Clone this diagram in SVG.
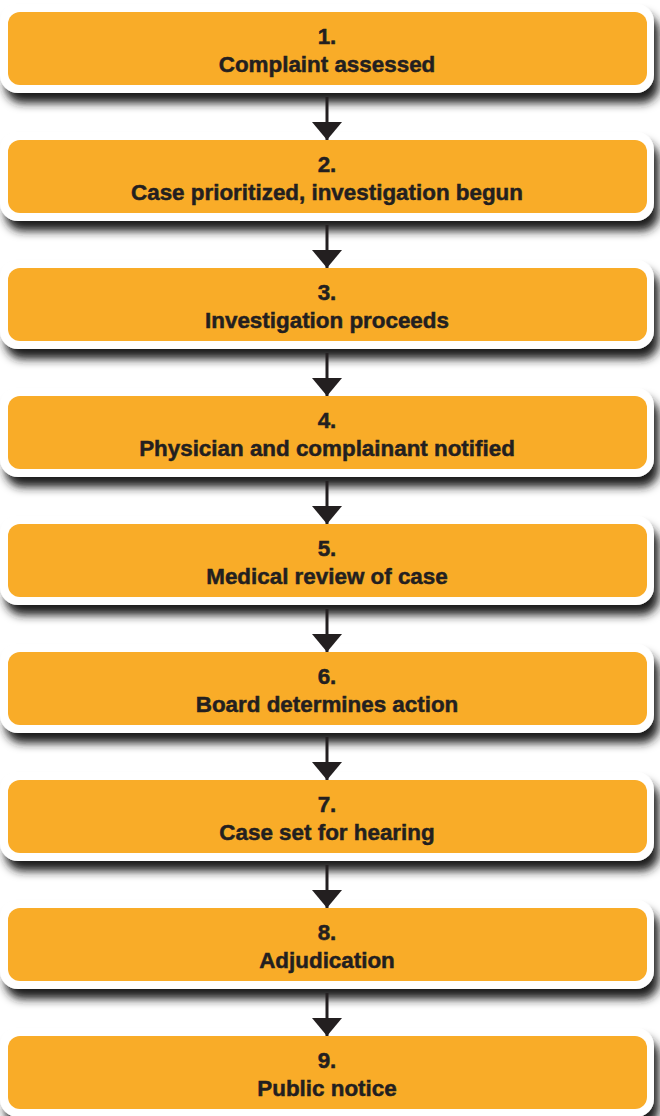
<svg xmlns="http://www.w3.org/2000/svg" width="660" height="1116" viewBox="0 0 660 1116">
<style>
.frame{fill:#ffffff}
.box{fill:#f9ac28}
.t{font-family:"Liberation Sans",Arial,sans-serif;font-weight:bold;font-size:22.4px;fill:#231f20;stroke:#231f20;stroke-width:0.5;text-anchor:middle}
.conn line{stroke:#231f20;stroke-width:3}
</style>
<defs>
<filter id="sh" x="-5%" y="-20%" width="115%" height="170%">
<feGaussianBlur in="SourceAlpha" stdDeviation="5"/>
<feOffset dx="5" dy="10" result="b"/>
<feFlood flood-color="#1e1e1e" flood-opacity="1"/>
<feComposite in2="b" operator="in"/>
<feMerge><feMergeNode/><feMergeNode in="SourceGraphic"/></feMerge>
</filter>
<marker id="ah" markerUnits="userSpaceOnUse" markerWidth="18" markerHeight="30" refX="18" refY="15" orient="auto" viewBox="0 0 18 30">
<path d="M0,0 L18,15 L0,30 Z" fill="#231f20"/>
</marker>
<g id="shape">
<rect class="frame" x="0" y="-8" width="654" height="89" rx="18" filter="url(#sh)"/>
<rect class="box" x="8" y="0" width="639" height="73" rx="12"/>
</g>
</defs>
<g id="node1" transform="translate(0,12)"><use href="#shape"/><text class="t" x="327" y="32">1.</text><text class="t" x="327" y="60">Complaint assessed</text></g>
<g id="node2" transform="translate(0,140)"><use href="#shape"/><text class="t" x="327" y="32">2.</text><text class="t" x="327" y="60">Case prioritized, investigation begun</text></g>
<g id="node3" transform="translate(0,268)"><use href="#shape"/><text class="t" x="327" y="32">3.</text><text class="t" x="327" y="60">Investigation proceeds</text></g>
<g id="node4" transform="translate(0,396)"><use href="#shape"/><text class="t" x="327" y="32">4.</text><text class="t" x="327" y="60">Physician and complainant notified</text></g>
<g id="node5" transform="translate(0,524)"><use href="#shape"/><text class="t" x="327" y="32">5.</text><text class="t" x="327" y="60">Medical review of case</text></g>
<g id="node6" transform="translate(0,652)"><use href="#shape"/><text class="t" x="327" y="32">6.</text><text class="t" x="327" y="60">Board determines action</text></g>
<g id="node7" transform="translate(0,780)"><use href="#shape"/><text class="t" x="327" y="32">7.</text><text class="t" x="327" y="60">Case set for hearing</text></g>
<g id="node8" transform="translate(0,908)"><use href="#shape"/><text class="t" x="327" y="32">8.</text><text class="t" x="327" y="60">Adjudication</text></g>
<g id="node9" transform="translate(0,1036)"><use href="#shape"/><text class="t" x="327" y="32">9.</text><text class="t" x="327" y="60">Public notice</text></g>
<g id="connectors" class="conn">
<line x1="327" y1="97" x2="327" y2="140" marker-end="url(#ah)"/>
<line x1="327" y1="225" x2="327" y2="268" marker-end="url(#ah)"/>
<line x1="327" y1="353" x2="327" y2="396" marker-end="url(#ah)"/>
<line x1="327" y1="481" x2="327" y2="524" marker-end="url(#ah)"/>
<line x1="327" y1="609" x2="327" y2="652" marker-end="url(#ah)"/>
<line x1="327" y1="737" x2="327" y2="780" marker-end="url(#ah)"/>
<line x1="327" y1="865" x2="327" y2="908" marker-end="url(#ah)"/>
<line x1="327" y1="993" x2="327" y2="1036" marker-end="url(#ah)"/>
</g>
</svg>
